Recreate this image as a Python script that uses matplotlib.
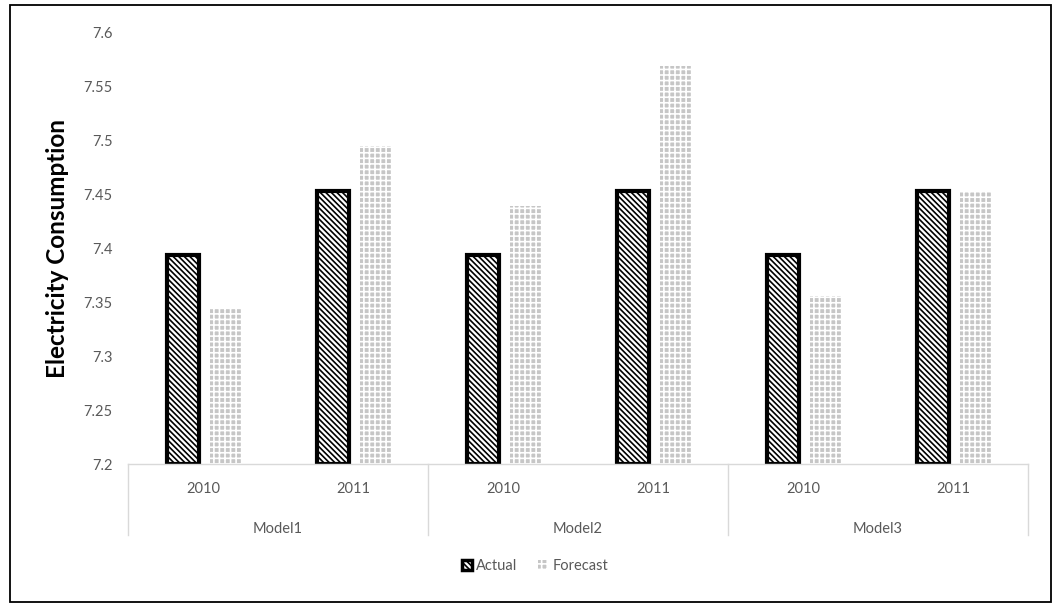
import matplotlib
matplotlib.use("Agg")
import matplotlib.pyplot as plt
from matplotlib.patches import Patch, Rectangle
import numpy as np

models = ["Model1", "Model2", "Model3"]
years = ["2010", "2011"]
actual = [7.394, 7.453, 7.394, 7.453, 7.394, 7.453]
forecast = [7.345, 7.495, 7.439, 7.569, 7.356, 7.453]
yticks = [7.2, 7.25, 7.3, 7.35, 7.4, 7.45, 7.5, 7.55, 7.6]

plt.rcParams["font.family"] = ["Lato", "DejaVu Sans"]
plt.rcParams["hatch.linewidth"] = 1.2
grey_txt = "#595959"
line_col = "#d9d9d9"
fc_fill = "#c6c6c6"

fig = plt.figure(figsize=(10.53, 6.03), dpi=100)
ax = fig.add_axes([0.1216, 0.2305, 0.8547, 0.7153])

x = np.arange(len(actual)) + 0.5
w = 0.21
ax.bar(x - 0.135, np.array(actual) - 7.2, w, bottom=7.2, facecolor="white",
       edgecolor="black", linewidth=3, hatch="\\" * 6, zorder=3)
ax.bar(x + 0.15, np.array(forecast) - 7.2, w, bottom=7.2, facecolor=fc_fill,
       edgecolor="white", linewidth=0, hatch="+++", zorder=2)

ax.set_xlim(0, 6)
ax.set_ylim(7.2, 7.6)
ax.set_yticks(yticks)
ax.set_yticklabels([f"{v:g}" for v in yticks])
ax.tick_params(axis="y", length=0, pad=11, labelsize=10.5, labelcolor=grey_txt)
ax.set_xticks([])
for s in ax.spines.values():
    s.set_visible(False)

# category axis: baseline, group separators, year and model labels
tr = ax.get_xaxis_transform()
ax.plot([0, 6], [0, 0], color=line_col, lw=1, transform=tr, clip_on=False, zorder=4)
for gx in [0, 2, 4, 6]:
    ax.plot([gx, gx], [0, -0.165], color=line_col, lw=1, transform=tr, clip_on=False)
for i, xi in enumerate(x):
    ax.text(xi, -0.058, years[i % 2], transform=tr, ha="center", va="center",
            fontsize=10.5, color=grey_txt)
for j, m in enumerate(models):
    ax.text(2 * j + 1, -0.15, m, transform=tr, ha="center", va="center",
            fontsize=10.5, color=grey_txt)

fig.text(0.055, 0.588, "Electricity Consumption", rotation=90, ha="center",
         va="center", fontsize=17.5, fontweight="bold", color="black")

handles = [
    Patch(facecolor="white", edgecolor="black", linewidth=2.5, hatch="\\" * 6, label="Actual"),
    Patch(facecolor=fc_fill, edgecolor="white", linewidth=0, hatch="+++", label="Forecast"),
]
leg = fig.legend(handles=handles, loc="center", bbox_to_anchor=(0.508, 0.061), ncol=2,
                 frameon=False, handlelength=0.7, handleheight=0.7, handletextpad=0.3,
                 columnspacing=1.4, fontsize=10.5)
for t in leg.get_texts():
    t.set_color(grey_txt)

fig.patches.append(Rectangle((10 / 1053, 1 / 603), 1041 / 1053, 597 / 603,
                             transform=fig.transFigure, fill=False,
                             edgecolor="black", linewidth=1.3))

fig.savefig("out.png", dpi=100)
